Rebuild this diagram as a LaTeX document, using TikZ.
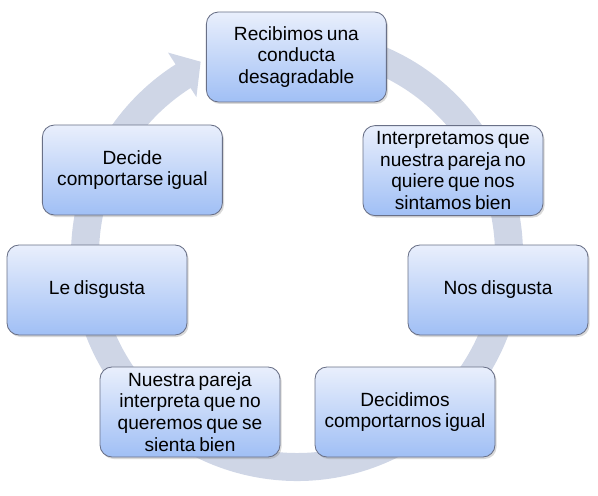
\documentclass[tikz,border=0pt]{standalone}
\usepackage{fontspec}
\setmainfont{Liberation Sans}[WordSpace=0.7]
\usetikzlibrary{shadows}

\definecolor{boxtop}{RGB}{233,239,252}
\definecolor{boxbottom}{RGB}{160,191,245}
\definecolor{boxline}{RGB}{105,112,135}
\definecolor{ringcol}{RGB}{207,214,230}

\begin{document}
\begin{tikzpicture}[font=\fontsize{13.6}{15.5}\selectfont, paso/.style={draw=boxline, line width=0.6pt, rounded corners=0.3cm, minimum width=4.5cm, minimum height=2.25cm, inner sep=2pt, align=center, top color=boxtop, bottom color=boxbottom, drop shadow={shadow xshift=0.04cm, shadow yshift=-0.05cm, opacity=0.3}}, anillo/.style={fill=ringcol}]

    \useasboundingbox (0, 0) rectangle (14.95, 12.375);

    % =========================================================================
    % Anillo circular con flecha
    % =========================================================================
    \coordinate (centro) at (7.425, 6.0);
    \begin{scope}[shift={(centro)}]
        \fill[anillo] (80:5.65) arc[start angle=80, end angle=-237.5, radius=5.65]
            -- (122.5:6.0) -- (116.5:5.4) -- (122.5:4.68)
            -- (122.5:4.95) arc[start angle=-237.5, end angle=80, radius=4.95] -- cycle;
    \end{scope}

    % =========================================================================
    % Pasos del ciclo
    % =========================================================================
    \node[paso] (recibimos) at (7.41, 10.95) {Recibimos una\\conducta\\desagradable};
    \node[paso] (interpretamos) at (11.325, 8.11) {Interpretamos que\\nuestra pareja no\\quiere que nos\\sintamos bien};
    \node[paso] (nos) at (12.45, 5.125) {Nos disgusta};
    \node[paso] (decidimos) at (10.125, 2.075) {Decidimos\\comportarnos igual};
    \node[paso] (pareja) at (4.75, 2.075) {Nuestra pareja\\interpreta que no\\queremos que se\\sienta bien};
    \node[paso] (le) at (2.425, 5.125) {Le disgusta};
    \node[paso] (decide) at (3.31, 8.125) {Decide\\comportarse igual};

\end{tikzpicture}
\end{document}
